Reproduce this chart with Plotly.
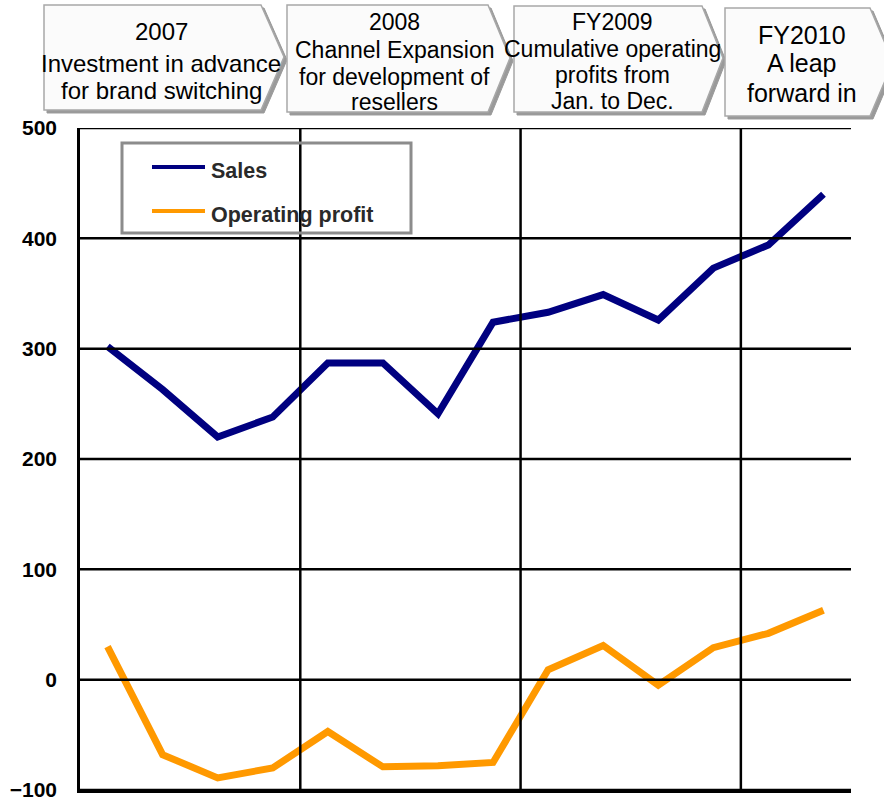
import plotly.graph_objects as go

# Quarterly results (millions)
quarters = [
    "2007 Q1", "2007 Q2", "2007 Q3", "2007 Q4",
    "2008 Q1", "2008 Q2", "2008 Q3", "2008 Q4",
    "FY2009 Q1", "FY2009 Q2", "FY2009 Q3", "FY2009 Q4",
    "FY2010 Q1", "FY2010 Q2",
]
sales = [302, 263, 220, 238, 287, 287, 241, 324, 333, 349, 326, 373, 394, 440]
operating_profit = [30, -68, -89, -80, -47, -79, -78, -75, 9, 31, -5, 29, 42, 63]

y_ticks = [-100, 0, 100, 200, 300, 400, 500]
period_breaks = [3.5, 7.5, 11.5]  # boundaries between the yearly groups

# Header banners: (heading, lines of description)
banners = [
    ("2007", ["Investment in advance", "for brand switching"]),
    ("2008", ["Channel Expansion", "for development of", "resellers"]),
    ("FY2009", ["Cumulative operating", "profits from", "Jan. to Dec."]),
    ("FY2010", ["A leap", "forward in"]),
]

W, H = 884, 800
PL, PR, PT, PB = 80, 851, 128, 790  # plot area in pixels


def px(x):
    return (x - PL) / (PR - PL)


def py(y):
    return (PB - y) / (PB - PT)


FONT = "Arial, Liberation Sans, sans-serif"
NAVY = "#000080"
ORANGE = "#FF9900"

fig = go.Figure()
fig.add_trace(go.Scatter(x=quarters, y=sales, name="Sales", mode="lines",
                         line=dict(color=NAVY, width=7), showlegend=False))
fig.add_trace(go.Scatter(x=quarters, y=operating_profit, name="Operating profit",
                         mode="lines", line=dict(color=ORANGE, width=7),
                         showlegend=False))

shapes = []
annotations = []

# horizontal grid lines drawn over the series
for v in y_ticks:
    shapes.append(dict(type="line", xref="paper", yref="y", x0=0, x1=1, y0=v, y1=v,
                       line=dict(color="black", width=2.5), layer="above"))
# vertical separators between years
for b in period_breaks:
    shapes.append(dict(type="line", xref="x", yref="paper", x0=b, x1=b, y0=0, y1=1,
                       line=dict(color="black", width=2.5), layer="above"))

# chevron banners: left, top, right shoulder, tip x, tip y, bottom
banner_geom = [
    (44, 5, 261, 284, 57, 110),
    (287, 5, 488, 510, 58, 112),
    (514, 6, 702, 723, 58, 112),
    (725, 8, 870, 893, 62, 116),
]


def chevron_path(l, t, r, tx, ty, b, dx=0, dy=0):
    pts = [(l + dx, t + dy), (r + dx, t + dy), (tx + dx, ty + dy),
           (r + dx, b + dy), (l + dx, b + dy)]
    d = "M " + " L ".join(f"{px(x):.5f},{py(y):.5f}" for x, y in pts) + " Z"
    return d


for g in banner_geom:
    shapes.append(dict(type="path", xref="paper", yref="paper",
                       path=chevron_path(*g, dx=3, dy=3),
                       fillcolor="#9a9a9a", line=dict(color="#9a9a9a", width=1),
                       layer="above"))
    shapes.append(dict(type="path", xref="paper", yref="paper",
                       path=chevron_path(*g),
                       fillcolor="#fbfbfb", line=dict(color="#a8a8a8", width=1.5),
                       layer="above"))

# banner text: centre x, line y positions, font size
banner_text = [
    (161, [31, 63, 91], 24),
    (394, [22, 50, 77, 102], 23),
    (612, [22, 49, 75, 101], 23),
    (802, [35, 63, 93], 25),
]
for (head, lines), (cx, ys, fs) in zip(banners, banner_text):
    for txt, yy in zip([head] + lines, ys):
        annotations.append(dict(text=txt, xref="paper", yref="paper",
                                x=px(cx), y=py(yy), xanchor="center", yanchor="middle",
                                showarrow=False,
                                font=dict(family=FONT, size=fs, color="black")))

# legend box
shapes.append(dict(type="rect", xref="paper", yref="paper",
                   x0=px(122), x1=px(411), y0=py(143), y1=py(233),
                   line=dict(color="#8c8c8c", width=3), fillcolor="rgba(0,0,0,0)",
                   layer="above"))
for tr, yy in zip(fig.data, [167, 211]):
    shapes.append(dict(type="line", xref="paper", yref="paper",
                       x0=px(152), x1=px(205), y0=py(yy), y1=py(yy),
                       line=dict(color=tr.line.color, width=4), layer="above"))
    annotations.append(dict(text=f"<b>{tr.name}</b>", xref="paper", yref="paper",
                            x=px(209), y=py(yy + 4), xanchor="left", yanchor="middle",
                            showarrow=False,
                            font=dict(family=FONT, size=21.5, color="#2a2a2a")))

fig.update_layout(
    width=W, height=H,
    margin=dict(l=PL, r=W - PR, t=PT, b=H - PB, pad=0, autoexpand=False),
    paper_bgcolor="white", plot_bgcolor="white",
    shapes=shapes, annotations=annotations,
    showlegend=False,
    xaxis=dict(type="category", range=[-0.5, len(quarters) - 0.5],
               showgrid=False, zeroline=False, showticklabels=False, ticks="",
               showline=True, linecolor="black", linewidth=2.5, automargin=False),
    yaxis=dict(range=[y_ticks[0], y_ticks[-1]], tickvals=y_ticks,
               showgrid=False, zeroline=False, ticks="", automargin=False,
               showline=True, linecolor="black", linewidth=2.5,
               ticklabelstandoff=16, ticklabeloverflow="allow",
               tickfont=dict(family=FONT, size=21, color="black", weight="bold")),
)

fig.write_html("out.html")
